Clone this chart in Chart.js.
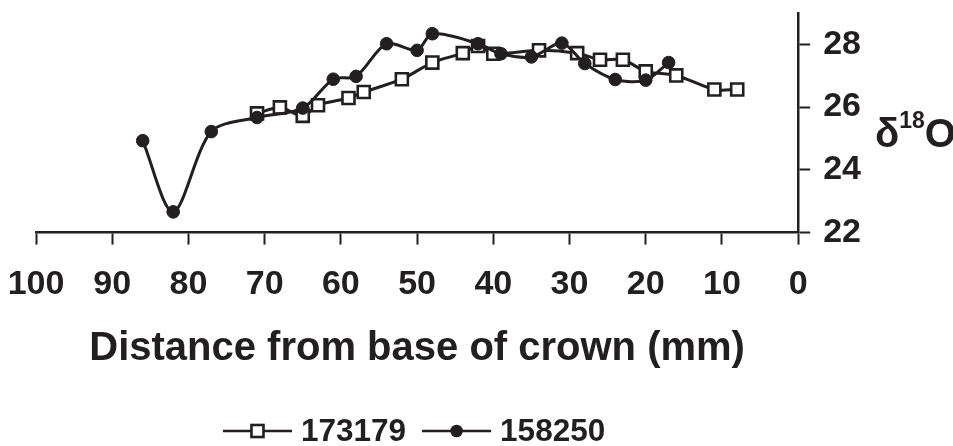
<!DOCTYPE html>
<html>
<head>
<meta charset="utf-8">
<script src="https://cdn.jsdelivr.net/npm/chart.js@4/dist/chart.umd.min.js"></script>
<style>
  html, body { margin: 0; padding: 0; background: #ffffff; }
  #wrap { width: 953px; height: 446px; }
</style>
</head>
<body>
<div id="wrap"><canvas id="c" width="953" height="446"></canvas></div>
<script>
// ---- data ----
const series173179Name = '173179';
const series173179X = [71, 68, 65, 63, 59, 57, 52, 48, 44, 42, 40, 34, 29, 26, 23, 20, 16, 11, 8];
const series173179Y = [25.80, 25.99, 25.72, 26.06, 26.29, 26.48, 26.89, 27.42, 27.72, 27.95, 27.70, 27.81, 27.72, 27.51, 27.51, 27.14, 27.01, 26.56, 26.56];

const series158250Name = '158250';
const series158250X = [86, 82, 77, 71, 65, 61, 58, 54, 50, 48, 42, 39, 35, 31, 28, 24, 20, 17];
const series158250Y = [24.93, 22.66, 25.22, 25.67, 25.97, 26.89, 26.98, 28.02, 27.81, 28.34, 28.02, 27.70, 27.60, 28.04, 27.39, 26.88, 26.86, 27.42];

const xTickValues = [100, 90, 80, 70, 60, 50, 40, 30, 20, 10, 0];
const yTickLabels = [22, 24, 26, 28];
const xTitle = 'Distance from base of crown (mm)';
const yTitleMain = 'δ';
const yTitleSup = '18';
const yTitleEnd = 'O';

// ---- styling ----
const INK = '#231f20';
const FONT = "'Liberation Sans', Arial, Helvetica, sans-serif";

function toPoints(xs, ys) { return xs.map((x, i) => ({ x: x, y: ys[i] })); }

const datasets = [
  {
    label: series173179Name,
    data: toPoints(series173179X, series173179Y),
    borderColor: INK,
    borderWidth: 3,
    backgroundColor: '#ffffff',
    pointStyle: 'rect',
    pointRadius: 8.5,
    pointBorderWidth: 2.6,
    pointBackgroundColor: '#ffffff',
    pointBorderColor: INK,
    tension: 0.3,
    order: 1
  },
  {
    label: series158250Name,
    data: toPoints(series158250X, series158250Y),
    borderColor: INK,
    borderWidth: 3,
    backgroundColor: INK,
    pointStyle: 'circle',
    pointRadius: 6.3,
    pointBorderWidth: 1,
    pointBackgroundColor: INK,
    pointBorderColor: INK,
    tension: 0.3,
    order: 0
  }
];

// custom legend + delta-18-O label
const decorPlugin = {
  id: 'decor',
  afterDraw(chart) {
    const ctx = chart.ctx;
    ctx.save();
    // y axis label  δ18O
    const lx = chart.width - 78;
    const base = 147;
    ctx.fillStyle = INK;
    ctx.textBaseline = 'alphabetic';
    ctx.textAlign = 'left';
    ctx.font = 'bold 40px ' + FONT;
    ctx.fillText(yTitleMain, lx, base);
    let w = ctx.measureText(yTitleMain).width;
    ctx.font = 'bold 23px ' + FONT;
    ctx.fillText(yTitleSup, lx + w, base - 19);
    w += ctx.measureText(yTitleSup).width;
    ctx.font = 'bold 40px ' + FONT;
    ctx.fillText(yTitleEnd, lx + w, base);

    // legend
    const lineLen = 69, gapText = 9, gapItem = 16;
    ctx.font = 'bold 31.5px ' + FONT;
    const items = [datasets[0], datasets[1]];
    const widths = items.map(d => ctx.measureText(d.label).width);
    let total = 0;
    widths.forEach((tw, i) => { total += lineLen + gapText + tw + (i < widths.length - 1 ? gapItem : 0); });
    const cx = (chart.chartArea.left + chart.chartArea.right) / 2 - 3;
    let x = cx - total / 2;
    const y = 431;
    items.forEach((d, i) => {
      ctx.strokeStyle = INK;
      ctx.lineWidth = 2.5;
      ctx.beginPath();
      ctx.moveTo(x, y);
      ctx.lineTo(x + lineLen, y);
      ctx.stroke();
      const mx = x + lineLen / 2;
      if (d.pointStyle === 'rect') {
        const s = d.pointRadius * Math.SQRT1_2;
        ctx.fillStyle = '#ffffff';
        ctx.fillRect(mx - s, y - s, 2 * s, 2 * s);
        ctx.lineWidth = d.pointBorderWidth;
        ctx.strokeRect(mx - s, y - s, 2 * s, 2 * s);
      } else {
        ctx.fillStyle = INK;
        ctx.beginPath();
        ctx.arc(mx, y, d.pointRadius, 0, Math.PI * 2);
        ctx.fill();
      }
      ctx.fillStyle = INK;
      ctx.textBaseline = 'middle';
      ctx.fillText(d.label, x + lineLen + gapText, y + 1);
      x += lineLen + gapText + widths[i] + gapItem;
    });
    ctx.restore();
  }
};

new Chart(document.getElementById('c'), {
  type: 'line',
  data: { datasets: datasets },
  options: {
    responsive: false,
    animation: false,
    devicePixelRatio: 1,
    layout: { padding: { left: 36, right: 79, top: 13, bottom: 73 } },
    plugins: {
      legend: { display: false },
      tooltip: { enabled: false }
    },
    scales: {
      x: {
        type: 'linear',
        reverse: true,
        min: 0,
        max: 100,
        afterBuildTicks(scale) { scale.ticks = xTickValues.map(v => ({ value: v })); },
        afterFit(scale) { scale.paddingLeft = 0; scale.paddingRight = 0; },
        ticks: {
          color: INK,
          font: { family: FONT, size: 34, weight: 'bold', lineHeight: 1.1 },
          padding: 21,
          maxRotation: 0,
          autoSkip: false
        },
        grid: {
          display: true,
          drawOnChartArea: false,
          drawTicks: true,
          tickLength: 12,
          tickWidth: 2,
          tickColor: INK,
          color: INK
        },
        border: { display: true, color: INK, width: 2.5 },
        title: {
          display: true,
          text: xTitle,
          color: INK,
          font: { family: FONT, size: 40, weight: 'bold' },
          padding: { top: 1, bottom: 0 }
        }
      },
      y: {
        type: 'linear',
        position: 'right',
        min: 22,
        max: 29,
        afterFit(scale) { scale.paddingTop = 0; scale.paddingBottom = 0; },
        ticks: {
          stepSize: 1,
          color: INK,
          font: { family: FONT, size: 34, weight: 'bold' },
          padding: 13,
          callback(v) { return yTickLabels.includes(v) ? String(v) : ''; }
        },
        grid: {
          display: true,
          drawOnChartArea: false,
          drawTicks: true,
          tickLength: 12,
          tickWidth: 2,
          tickColor: INK,
          color: INK
        },
        border: { display: true, color: INK, width: 2.5 }
      }
    }
  },
  plugins: [decorPlugin]
});
</script>
</body>
</html>
